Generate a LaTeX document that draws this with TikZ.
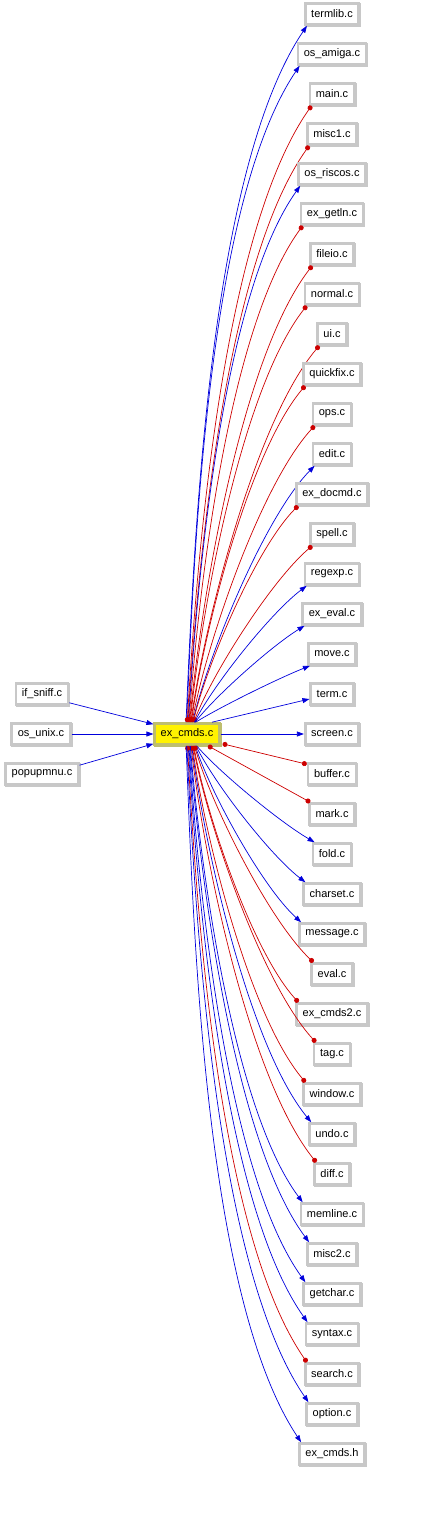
\documentclass[tikz,border=0pt]{standalone}
\usepackage{fontspec}
\setmainfont{Liberation Sans}
\usetikzlibrary{arrows.meta,calc,shadows}
\definecolor{boxgray}{RGB}{200,200,200}
\definecolor{exborder}{RGB}{190,190,110}
\definecolor{eblue}{RGB}{0,0,220}
\definecolor{ered}{RGB}{205,0,0}
% gently bowed connector: steeper than the chord at the start, flatter at the end
\newcommand\curvedge[3]{\draw[#1] let \p1=(#2), \p2=(#3),
  \n1={abs(\y2-\y1)/(\x2-\x1)},
  \n2={atan(\n1*(1+0.5*\n1))},
  \n3={atan(\n1/(1+0.5*\n1))},
  \n4={0.25*veclen(\x2-\x1,\y2-\y1)},
  \n5={sign(\y2-\y1)}
  in (\p1) .. controls ($(\p1)+({\n5*\n2}:\n4)$) and ($(\p2)+({180+\n5*\n3}:\n4)$) .. (\p2);}
\begin{document}
\begin{tikzpicture}[x=1pt,y=-1pt,
  box/.style={draw=boxgray, line width=2.6pt, fill=white, inner xsep=6pt, inner ysep=0pt, minimum height=21pt, font=\fontsize{11}{13}\selectfont,
    general shadow={draw=boxgray, line width=2.6pt, shadow xshift=1pt, shadow yshift=-1pt}},
  focus/.style={box, fill=yellow, draw=exborder, general shadow={draw=exborder, line width=2.6pt, shadow xshift=1pt, shadow yshift=-1pt}},
  edgeB/.style={draw=eblue, line width=0.7pt, -{Triangle[length=7pt,width=5pt]}},
  edgeR/.style={draw=ered, line width=0.7pt, {Circle[length=5pt]}-{Circle[length=5pt]}},
]
\useasboundingbox (0,0) rectangle (425,1523);
\node[focus] (ex) at (187,734) {ex\_cmds.c};
\node[box] (ifsniff) at (42,694) {if\_sniff.c};
\node[box] (osunix) at (41,734) {os\_unix.c};
\node[box] (popupmnu) at (42,774) {popupmnu.c};
\draw[edgeB] ($(ifsniff.south east)+(0,-3)$) -- ($(ex.north west)+(0,2)$);
\draw[edgeB] (osunix.east) -- (ex.west);
\draw[edgeB] ($(popupmnu.north east)+(0,3)$) -- ($(ex.south west)+(0,-2)$);
% upper targets
\foreach \nm/\lab/\col [count=\i from 0] in {termlib/termlib.c/B, osamiga/os\_amiga.c/B, main/main.c/R, miscone/misc1.c/R, osriscos/os\_riscos.c/B, exgetln/ex\_getln.c/R, fileio/fileio.c/R, normal/normal.c/R, ui/ui.c/R, quickfix/quickfix.c/R, ops/ops.c/R, edit/edit.c/B, exdocmd/ex\_docmd.c/R, spell/spell.c/R, regexp/regexp.c/B, exeval/ex\_eval.c/B, move/move.c/B}{
  \node[box] (\nm) at (332,{14+40*\i}) {\lab};
  \curvedge{edge\col}{$(ex.north)+({-1+0.6*\i},0)$}{$(\nm.south west)+(3,0)$}
}
\node[box] (term) at (332,694) {term.c};
\draw[edgeB] ($(ex.north)+(25,0)$) -- ($(term.west)+(0,5)$);
\node[box] (screen) at (332,734) {screen.c};
\draw[edgeB] (ex.east) -- (screen.west);
% lower targets
\foreach \nm/\lab/\col [count=\i from 0] in {buffer/buffer.c/R, mark/mark.c/R, fold/fold.c/B, charset/charset.c/B, message/message.c/B, eval/eval.c/R, excmdstwo/ex\_cmds2.c/R, tag/tag.c/R, window/window.c/R, undo/undo.c/B, diff/diff.c/R, memline/memline.c/B, misctwo/misc2.c/B, getchar/getchar.c/B, syntax/syntax.c/B, search/search.c/R, option/option.c/B, excmdsh/ex\_cmds.h/B}{
  \node[box] (\nm) at (332,{774+40*\i}) {\lab};
}
\draw[edgeR] ($(ex.south east)+(2,-2)$) -- ($(buffer.north west)+(0,2)$);
\draw[edgeR] ($(ex.south)+(21,0)$) -- ($(mark.north west)+(2,0)$);
\foreach \nm/\col [count=\i from 2] in {fold/B, charset/B, message/B, eval/R, excmdstwo/R, tag/R, window/R, undo/B, diff/R, memline/B, misctwo/B, getchar/B, syntax/B, search/R, option/B, excmdsh/B}{
  \curvedge{edge\col}{$(ex.south)+({11-0.7*\i},0)$}{$(\nm.north west)+(3,0)$}
}
\end{tikzpicture}
\end{document}
